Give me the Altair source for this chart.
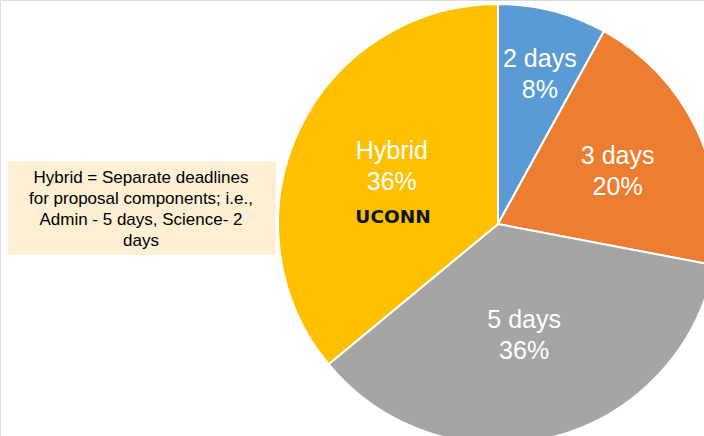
import altair as alt
import pandas as pd

categories = ["2 days", "3 days", "5 days", "Hybrid"]
percents = [8, 20, 36, 36]
colors = ["#5B9BD5", "#ED7D31", "#A5A5A5", "#FFC000"]
note_lines = ["Hybrid = Separate deadlines", "for proposal components; i.e.,",
              "Admin - 5 days, Science- 2", "days"]
logo_text = ["UCONN"]

df = pd.DataFrame({"category": categories, "pct": percents, "idx": list(range(len(categories)))})
note_df = pd.DataFrame({"note": ["\n".join(note_lines)]})
logo_df = pd.DataFrame({"logo": logo_text})

CX, CY, R = 498, 224, 220
FONT = "Liberation Sans"

pie = alt.Chart(df).mark_arc(radius=R, stroke="white", strokeWidth=2).encode(
    theta=alt.Theta("pct:Q", stack=True),
    order=alt.Order("idx:Q", sort="ascending"),
    x=alt.value(CX),
    y=alt.value(CY),
    color=alt.Color("category:N", scale=alt.Scale(domain=categories, range=colors), legend=None),
)

labels = alt.Chart(df).transform_window(
    cum="sum(pct)", sort=[alt.SortField("idx", order="ascending")]
).transform_joinaggregate(
    total="sum(pct)"
).transform_calculate(
    mid="(datum.cum - datum.pct / 2) / datum.total * 2 * PI + (datum.category == 'Hybrid' ? 0.06 : 0.02)",
    label="datum.category + '\\n' + datum.pct + '%'",
    lr="datum.category == '2 days' ? 156 : datum.category == '3 days' ? 131 : datum.category == '5 days' ? 114 : 121",
).mark_text(
    font=FONT, fontSize=25, color="white", lineBreak="\n", lineHeight=31,
    align="center", baseline="middle", dy=-15,
).encode(
    text="label:N",
    theta=alt.Theta("mid:Q", scale=None),
    radius=alt.Radius("lr:Q", scale=None),
    x=alt.value(CX),
    y=alt.value(CY),
)

logo = alt.Chart(logo_df).mark_text(
    font="DejaVu Sans", fontWeight="bold", fontSize=18.5, color="#0b1428",
    align="center", baseline="middle",
).encode(text="logo:N", x=alt.value(393), y=alt.value(217))

box = alt.Chart(note_df).mark_rect(color="#FDEFD3").encode(
    x=alt.value(8), x2=alt.value(276), y=alt.value(161), y2=alt.value(255)
)

note = alt.Chart(note_df).mark_text(
    font=FONT, fontSize=17, color="black", lineBreak="\n", lineHeight=21,
    align="center", baseline="middle",
).encode(text="note:N", x=alt.value(141), y=alt.value(178))

chart = alt.layer(pie, labels, logo, box, note).properties(
    width=704, height=436, autosize=alt.AutoSizeParams(type="none"), padding=0
).configure_view(stroke=None).configure(background="white")

chart.save("out.html", embed_options={"renderer": "svg", "actions": False})
